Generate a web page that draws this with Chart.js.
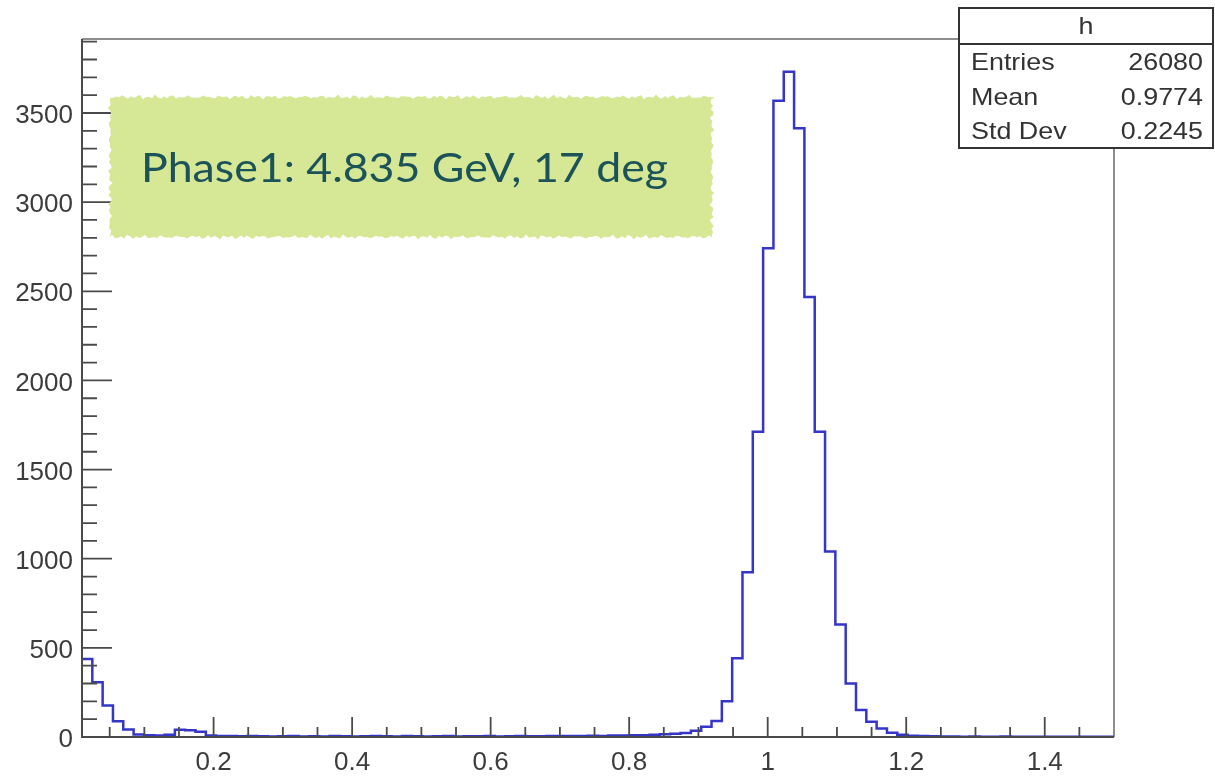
<!DOCTYPE html>
<html><head><meta charset="utf-8">
<script src="https://cdn.jsdelivr.net/npm/chart.js@4.4.1/dist/chart.umd.min.js"></script>
<style>html,body{margin:0;padding:0;background:#fff;overflow:hidden}canvas{display:block}</style>
</head><body>
<canvas id="c" width="1215" height="777"></canvas>
<script>
// ---- data ----
const X_MIN = 0.01, X_MAX = 1.5, N_BINS = 100;
const counts = [
  438, 307, 176, 88, 42, 14, 10, 8, 12, 40,
  38, 30, 8, 6, 5, 4, 5, 4, 3, 4,
  5, 3, 4, 3, 5, 4, 3, 4, 6, 4,
  3, 5, 4, 3, 4, 5, 3, 4, 4, 5,
  3, 4, 5, 4, 4, 5, 6, 5, 6, 7,
  6, 8, 9, 10, 10, 13, 16, 18, 22, 35,
  58, 90, 200, 442, 924, 1712, 2742, 3569, 3731, 3414,
  2468, 1712, 1040, 631, 300, 151, 86, 48, 24, 12,
  7, 5, 4, 3, 3, 2, 3, 2, 2, 3,
  2, 2, 1, 2, 2, 1, 2, 1, 1, 1
];
const Y_MAX = 3915;
const xMajorTicks = [0.2, 0.4, 0.6, 0.8, 1.0, 1.2, 1.4];
const xMinorTicks = [0.05, 0.1, 0.15, 0.25, 0.3, 0.35, 0.45, 0.5, 0.55, 0.65, 0.7, 0.75,
                     0.85, 0.9, 0.95, 1.05, 1.1, 1.15, 1.25, 1.3, 1.35, 1.45];
const xTickLabels = ['0.2', '0.4', '0.6', '0.8', '1', '1.2', '1.4'];
const yMajorTicks = [0, 500, 1000, 1500, 2000, 2500, 3000, 3500];
const yMinorStep = 100;
const statsTitle = 'h';
const statsLabels = ['Entries', 'Mean', 'Std Dev'];
const statsValues = ['26080', '0.9774', '0.2245'];
const annotationText = 'Phase1: 4.835 GeV, 17 deg';

// ---- build dataset (bin edges) ----
const binW = (X_MAX - X_MIN) / N_BINS;
const points = counts.map((c, i) => ({ x: X_MIN + i * binW, y: c }));
points.push({ x: X_MAX, y: counts[counts.length - 1] });

const yAllTicks = [];
for (let v = 0; v < Y_MAX; v += yMinorStep) yAllTicks.push(v);
const xAllTicks = xMajorTicks.concat(xMinorTicks).sort((a, b) => a - b);

const AXIS = '#4a4a4a';
const LABEL = '#3c3c3c';

const decorPlugin = {
  id: 'decor',
  afterDatasetsDraw(chart) {
    const ctx = chart.ctx, a = chart.chartArea;
    const xs = chart.scales.x, ys = chart.scales.y;
    ctx.save();
    ctx.strokeStyle = '#6a6a6a'; ctx.lineWidth = 1.5;
    ctx.beginPath();
    ctx.moveTo(a.left, a.top); ctx.lineTo(a.right, a.top); ctx.lineTo(a.right, a.bottom);
    ctx.stroke();
    ctx.strokeStyle = AXIS; ctx.lineWidth = 2;
    ctx.beginPath();
    ctx.moveTo(a.left, a.top); ctx.lineTo(a.left, a.bottom); ctx.lineTo(a.right, a.bottom);
    ctx.stroke();
    ctx.lineWidth = 1.8;
    ctx.beginPath();
    xMajorTicks.forEach(v => { const p = xs.getPixelForValue(v); ctx.moveTo(p, a.bottom); ctx.lineTo(p, a.bottom - 20); });
    xMinorTicks.forEach(v => { const p = xs.getPixelForValue(v); ctx.moveTo(p, a.bottom); ctx.lineTo(p, a.bottom - 10); });
    yAllTicks.forEach(v => {
      if (v === 0) return;
      const p = ys.getPixelForValue(v);
      const len = (v % 500 === 0) ? 30 : 15;
      ctx.moveTo(a.left, p); ctx.lineTo(a.left + len, p);
    });
    ctx.stroke();
    ctx.restore();
  },
  afterDraw(chart) {
    const ctx = chart.ctx;
    ctx.save();
    // rough green annotation box
    const bx0 = 110, by0 = 97, bx1 = 712, by1 = 237;
    const pts = [];
    const j = (i, k) => 1.2 * Math.sin(i * 2.37 + k) + 0.9 * Math.sin(i * 1.13 + 2 * k) + 0.6 * Math.sin(i * 4.1 + k);
    for (let x = bx0, i = 0; x <= bx1; x += 3, i++) pts.push([x, by0 + j(i, 0.3)]);
    for (let y = by0, i = 0; y <= by1; y += 3, i++) pts.push([bx1 + j(i, 1.1), y]);
    for (let x = bx1, i = 0; x >= bx0; x -= 3, i++) pts.push([x, by1 + j(i, 2.2)]);
    for (let y = by1, i = 0; y >= by0; y -= 3, i++) pts.push([bx0 + j(i, 3.1), y]);
    ctx.fillStyle = '#d6e795';
    ctx.beginPath();
    pts.forEach((p, i) => i ? ctx.lineTo(p[0], p[1]) : ctx.moveTo(p[0], p[1]));
    ctx.closePath(); ctx.fill();
    ctx.fillStyle = '#1c5358';
    ctx.font = '40px Lato';
    ctx.textBaseline = 'alphabetic';
    ctx.textAlign = 'left';
    const tw = ctx.measureText(annotationText).width;
    ctx.save();
    ctx.translate(141, 182);
    ctx.scale(527 / tw, 1);
    ctx.fillText(annotationText, 0, 0);
    ctx.restore();

    // stats box
    const sx0 = 959, sy0 = 8, sx1 = 1213, sy1 = 148, sh = 44;
    ctx.fillStyle = '#fff';
    ctx.fillRect(sx0, sy0, sx1 - sx0, sy1 - sy0);
    ctx.strokeStyle = '#333'; ctx.lineWidth = 2;
    ctx.strokeRect(sx0, sy0, sx1 - sx0, sy1 - sy0);
    ctx.beginPath(); ctx.moveTo(sx0, sh); ctx.lineTo(sx1, sh); ctx.stroke();
    ctx.fillStyle = '#333';
    ctx.font = '24px "Liberation Sans"';
    ctx.textBaseline = 'middle';
    const drawStretched = (t, x, y, align) => {
      ctx.save(); ctx.translate(x, y); ctx.scale(1.12, 1); ctx.textAlign = align; ctx.fillText(t, 0, 0); ctx.restore();
    };
    drawStretched(statsTitle, (sx0 + sx1) / 2, 27, 'center');
    const rowsY = [63, 98, 132];
    statsLabels.forEach((l, i) => {
      drawStretched(l, 971, rowsY[i], 'left');
      drawStretched(statsValues[i], 1203, rowsY[i], 'right');
    });
    ctx.restore();
  }
};

new Chart(document.getElementById('c'), {
  type: 'line',
  data: {
    datasets: [{
      data: points,
      stepped: 'before',
      borderColor: '#3535c8',
      borderWidth: 2.5,
      pointRadius: 0,
      fill: false,
      tension: 0
    }]
  },
  options: {
    responsive: false,
    animation: false,
    events: [],
    layout: { padding: { top: 39, right: 101, left: 0, bottom: 0 } },
    plugins: { legend: { display: false }, tooltip: { enabled: false } },
    scales: {
      x: {
        type: 'linear', min: X_MIN, max: X_MAX,
        grid: { display: false }, border: { display: false },
        afterBuildTicks: s => { s.ticks = xAllTicks.map(v => ({ value: v })); },
        afterFit: s => { s.height = 40; },
        ticks: {
          autoSkip: false, maxRotation: 0, padding: 2,
          color: LABEL, font: { family: 'Liberation Sans', size: 26 },
          callback: v => { const k = xMajorTicks.findIndex(m => Math.abs(m - v) < 1e-6); return k >= 0 ? xTickLabels[k] : ''; }
        }
      },
      y: {
        type: 'linear', min: 0, max: Y_MAX,
        grid: { display: false }, border: { display: false },
        afterBuildTicks: s => { s.ticks = yAllTicks.map(v => ({ value: v })); },
        afterFit: s => { s.width = 82; },
        ticks: {
          autoSkip: false, padding: 1, labelOffset: 3,
          color: LABEL, font: { family: 'Liberation Sans', size: 26 },
          callback: v => (yMajorTicks.includes(v) ? String(v) : '')
        }
      }
    }
  },
  plugins: [decorPlugin]
});
</script>
</body></html>
